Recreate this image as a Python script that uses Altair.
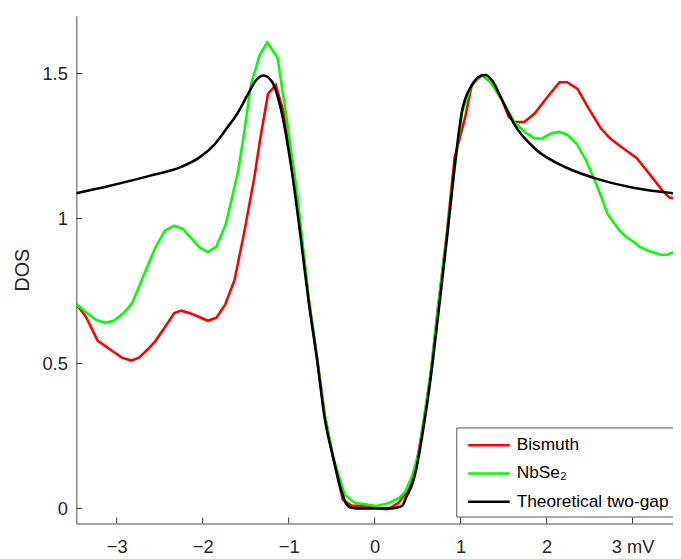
import altair as alt
import pandas as pd

# ---- data ----
bi_x = [-3.47, -3.36, -3.22, -3.05, -2.94, -2.83, -2.74, -2.64, -2.55, -2.44, -2.33, -2.25,
        -2.14, -2.04, -1.94, -1.84, -1.74, -1.63, -1.52, -1.40, -1.33, -1.24, -1.15, -1.06,
        -0.94, -0.86, -0.77, -0.67, -0.58, -0.48, -0.37, -0.27, -0.14, 0.05, 0.15, 0.28,
        0.40, 0.48, 0.57, 0.65, 0.74, 0.84, 0.93, 1.05, 1.13, 1.25, 1.35, 1.48, 1.56, 1.63,
        1.74, 1.86, 2.01, 2.15, 2.24, 2.36, 2.49, 2.63, 2.74, 2.89, 3.05, 3.20, 3.35, 3.43, 3.48]
bi_y = [0.705, 0.662, 0.578, 0.543, 0.520, 0.510, 0.520, 0.548, 0.577, 0.625, 0.674, 0.682,
        0.672, 0.660, 0.647, 0.658, 0.702, 0.787, 0.947, 1.140, 1.276, 1.430, 1.461, 1.368,
        1.163, 0.960, 0.730, 0.520, 0.320, 0.170, 0.030, 0.010, 0.008, 0.000, -0.003, 0.019,
        0.070, 0.140, 0.300, 0.460, 0.700, 0.950, 1.210, 1.345, 1.460, 1.495, 1.470, 1.410, 1.350, 1.333,
        1.333, 1.362, 1.419, 1.470, 1.470, 1.447, 1.379, 1.311, 1.276, 1.242, 1.208, 1.152, 1.095, 1.072, 1.070]

nb_x = [-3.47, -3.35, -3.24, -3.13, -3.03, -2.92, -2.82, -2.71, -2.55, -2.44, -2.33, -2.23,
        -2.04, -1.94, -1.84, -1.73, -1.65, -1.59, -1.52, -1.44, -1.34, -1.25, -1.13, -1.04,
        -0.90, -0.77, -0.67, -0.58, -0.48, -0.35, -0.23, 0.02, 0.17, 0.29, 0.36, 0.44, 0.52,
        0.57, 0.65, 0.74, 0.84, 0.94, 1.02, 1.13, 1.25, 1.35, 1.48, 1.63, 1.74, 1.86, 1.95,
        2.05, 2.15, 2.24, 2.35, 2.46, 2.59, 2.71, 2.84, 2.93, 3.01, 3.09, 3.20, 3.33, 3.41, 3.48]
nb_y = [0.705, 0.675, 0.650, 0.640, 0.648, 0.674, 0.708, 0.787, 0.900, 0.958, 0.975, 0.964,
        0.901, 0.884, 0.903, 0.981, 1.083, 1.160, 1.290, 1.460, 1.561, 1.607, 1.555, 1.379,
        1.083, 0.730, 0.520, 0.320, 0.175, 0.048, 0.019, 0.008, 0.019, 0.037, 0.060, 0.115, 0.200,
        0.300, 0.460, 0.700, 0.940, 1.200, 1.370, 1.460, 1.495, 1.470, 1.410, 1.330, 1.300, 1.276, 1.276,
        1.293, 1.299, 1.289, 1.257, 1.200, 1.110, 1.015, 0.961, 0.935, 0.920, 0.901, 0.887, 0.875, 0.875, 0.884]

th_x = [-3.47, -3.09, -2.63, -2.25, -2.05, -1.86, -1.71, -1.59, -1.48, -1.38, -1.29, -1.19,
        -1.10, -0.98, -0.865, -0.77, -0.67, -0.58, -0.48, -0.385, -0.33, -0.27, -0.20, 0.0,
        0.20, 0.25, 0.325, 0.362, 0.44, 0.478, 0.573, 0.65, 0.746, 0.842, 0.938, 1.015, 1.13,
        1.245, 1.29, 1.38, 1.475, 1.63, 1.86, 2.24, 2.55, 3.01, 3.47]
th_y = [1.087, 1.112, 1.146, 1.178, 1.208, 1.256, 1.315, 1.365, 1.425, 1.476, 1.493, 1.470,
        1.390, 1.197, 0.947, 0.719, 0.514, 0.310, 0.173, 0.059, 0.016, 0.002, 0.000, 0.000,
        0.000, 0.002, 0.010, 0.036, 0.085, 0.128, 0.287, 0.446, 0.685, 0.935, 1.197, 1.368, 1.459,
        1.493, 1.495, 1.470, 1.413, 1.322, 1.242, 1.174, 1.140, 1.106, 1.087]

series_names = ["Bismuth", "NbSe\u2082", "Theoretical two-gap"]
series_colors = ["#ff0000", "#00ff00", "#000000"]
x_ticks = [-3, -2, -1, 0, 1, 2, 3]
y_ticks = [0, 0.5, 1, 1.5]

df = pd.concat([
    pd.DataFrame({"mV": bi_x, "DOS": bi_y, "series": series_names[0], "k": 0}),
    pd.DataFrame({"mV": nb_x, "DOS": nb_y, "series": series_names[1], "k": 1}),
    pd.DataFrame({"mV": th_x, "DOS": th_y, "series": series_names[2], "k": 2}),
], ignore_index=True)

FONT = "Liberation Sans, Arial, Helvetica, sans-serif"
W, H = 603, 513
xscale = alt.Scale(domain=[-3.47, 3.47], nice=False, zero=False)
yscale = alt.Scale(domain=[-0.052, 1.699], nice=False, zero=False)
cscale = alt.Scale(domain=series_names, range=series_colors)

legend = alt.Legend(
    orient="none", legendX=384, legendY=416, title=None,
    symbolType="M-2,0H2", symbolSize=441, symbolStrokeWidth=2.6,
    symbolOffset=15, labelOffset=16,
    labelFontSize=17.5, labelFont=FONT, labelColor="#000000", labelLimit=400,
    fillColor="white", strokeColor="#555555", padding=6, rowPadding=7.5,
    direction="vertical",
)

xaxis = alt.Axis(values=x_ticks, format="~g", tickSize=0, labelPadding=14,
                 labelExpr="datum.value == 3 ? '3 mV' : datum.label",
                 title=None, grid=False)
yaxis = alt.Axis(values=y_ticks, format="~g", tickSize=0, labelPadding=9,
                 title="DOS", titleFontSize=20, titleFontWeight="normal",
                 titleX=-54, titleY=H / 2, titleAlign="center", titleAngle=-90,
                 titleBaseline="middle", grid=False)

def line_layer(k, interp):
    return alt.Chart(df).transform_filter(alt.datum.k == k).mark_line(
        clip=True, strokeWidth=2.6, interpolate=interp
    ).encode(
        x=alt.X("mV:Q", scale=xscale, axis=xaxis),
        y=alt.Y("DOS:Q", scale=yscale, axis=yaxis),
        color=alt.Color("series:N", scale=cscale, legend=legend),
        order=alt.Order("mV:Q"),
    )

xt = alt.Chart(pd.DataFrame({"mV": x_ticks})).mark_rule(color="#333333", strokeWidth=1).encode(
    x=alt.X("mV:Q", scale=xscale, axis=xaxis),
    y=alt.value(H), y2=alt.value(H - 6),
)
yt = alt.Chart(pd.DataFrame({"DOS": y_ticks})).mark_rule(color="#333333", strokeWidth=1).encode(
    y=alt.Y("DOS:Q", scale=yscale, axis=yaxis),
    x=alt.value(0), x2=alt.value(6),
)

chart = alt.layer(
    line_layer(0, "linear"), line_layer(1, "linear"), line_layer(2, "monotone"), xt, yt
).properties(
    width=W, height=H,
    padding={"left": 69, "top": 5, "right": 0, "bottom": 30},
    autosize=alt.AutoSizeParams(type="none"),
).configure_view(stroke=None).configure_axis(
    labelFont=FONT, titleFont=FONT, labelFontSize=18.5, labelColor="#262626",
    titleColor="#262626", domainColor="#888888", domainWidth=1.5,
).configure_legend(labelFont=FONT)

chart.save("out.html", embed_options={"renderer": "svg", "actions": False})
